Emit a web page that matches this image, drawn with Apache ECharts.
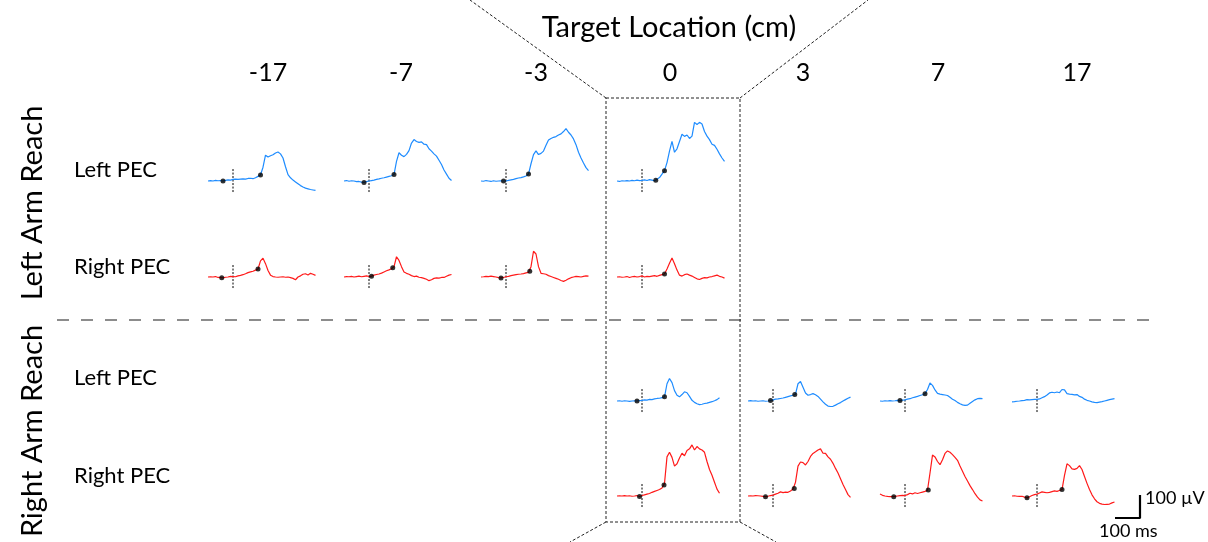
<!DOCTYPE html>
<html>
<head>
<meta charset="utf-8">
<script src="https://cdn.jsdelivr.net/npm/echarts@6/dist/echarts.min.js"></script>
<style>html,body{margin:0;padding:0;background:#fff}#c{width:1208px;height:542px}</style>
</head>
<body>
<div id="c"></div>
<script>
// ---- DATA ----
const TITLE = 'Target Location (cm)';
const TARGETS = ['-17', '-7', '-3', '0', '3', '7', '17'];
const ROW_LABELS = ['Left PEC', 'Right PEC', 'Left PEC', 'Right PEC'];
const GROUP_LABELS = ['Left Arm Reach', 'Right Arm Reach'];
const SCALE_LABELS = ['100 µV', '100 ms'];
const SCALE_BAR = [[100, 100], [100, 0], [0, 0]]; // 100 ms x 100 µV
const ONSET = [[0, -48], [0, 55]];
// time (ms) relative to target onset
const TIME = [-100,-90,-80,-70,-60,-50,-40,-30,-20,-10,0,10,20,30,40,50,60,70,80,90,100,110,120,130,140,150,160,170,180,190,200,210,220,230,240,250,260,270,280,290,300,310,320,330];

// Left arm reach, Left PEC (µV)
const LA_LPEC_m17 = [0,2,0,3,1,2,0,3,5,4,7,8,7,8,9,8,11,12,10,14,20,26,60,112,104,110,114,122,126,118,100,62,28,14,4,-4,-12,-20,-26,-31,-34,-37,-39,-41];
const LA_LPEC_m7 = [0,2,-1,1,0,-3,-2,-5,-6,-3,0,2,4,7,9,12,14,17,20,23,28,85,123,112,106,116,132,165,180,172,168,170,160,158,140,130,118,108,90,72,48,30,12,2];
const LA_LPEC_m3 = [0,-1,2,0,-2,1,-1,0,1,0,0,3,5,7,10,13,15,18,22,30,75,115,131,115,120,130,155,178,185,190,193,200,205,215,228,212,200,183,158,125,100,78,58,45];
const LA_LPEC_0 = [0,-2,1,0,2,0,3,1,4,2,3,5,2,6,4,1,8,15,30,45,80,130,172,125,140,172,203,194,200,185,195,255,246,255,248,215,195,180,160,155,138,118,100,85];
// Left arm reach, Right PEC (µV)
const LA_RPEC_m17 = [0,1,0,2,-2,-3,-4,-1,0,3,2,1,5,7,10,14,19,22,25,30,35,70,82,58,28,8,2,0,-1,0,1,-1,0,-3,-6,-12,0,5,12,14,9,16,12,7];
const LA_RPEC_m7 = [0,2,1,3,0,2,4,1,3,5,2,4,8,11,13,17,22,27,31,36,45,88,72,45,22,16,12,6,2,4,-1,-3,-6,-10,-16,-12,-6,-4,-5,-2,-2,3,8,11];
const LA_RPEC_m3 = [0,1,3,2,4,2,0,-3,-4,-2,1,3,6,8,10,12,13,15,18,20,45,112,100,45,16,14,12,6,2,-2,-6,-10,-15,-19,-14,-8,-3,0,3,2,0,3,5,4];
const LA_RPEC_0 = [0,1,-1,0,2,-2,1,3,0,2,5,0,3,2,4,6,3,7,10,13,35,60,83,58,30,8,4,10,13,8,4,-2,-8,-11,-6,-3,-4,0,2,5,8,3,0,-5];
// Right arm reach, Left PEC (µV)
const RA_LPEC_0 = [0,1,-1,1,0,-2,0,1,0,2,3,5,4,7,6,9,11,12,15,18,75,98,80,45,25,18,28,40,36,20,3,-6,-12,-16,-14,-11,-9,-6,-3,1,6,14];
const RA_LPEC_3 = [0,2,0,1,-1,0,1,-1,0,2,5,8,9,11,13,16,19,22,25,30,75,85,60,35,25,28,32,27,20,8,-4,-14,-22,-24,-23,-18,-12,-7,0,6,12,17];
const RA_LPEC_7 = [0,-1,1,0,2,0,1,3,2,4,5,8,10,14,17,20,24,27,32,50,78,68,48,33,30,28,26,24,16,8,2,-6,-12,-17,-19,-18,-10,-2,5,10,11,10];
const RA_LPEC_17 = [-4,-3,-1,0,2,3,6,5,6,7,7,9,14,19,26,35,38,36,39,36,50,48,32,30,29,27,28,20,16,8,3,0,-4,-6,-7,-5,-3,0,3,6,8,10];
// Right arm reach, Right PEC (µV)
const RA_RPEC_0 = [0,1,0,2,0,1,-1,0,2,-2,2,5,8,11,16,20,24,28,35,55,170,190,168,130,140,165,186,175,198,205,222,200,215,205,200,190,150,115,90,60,30,12];
const RA_RPEC_3 = [0,1,0,2,1,0,-2,-3,-1,2,4,8,12,18,15,17,16,22,30,60,130,148,145,135,150,172,185,192,200,205,186,185,170,160,142,120,100,75,50,28,6,-6];
const RA_RPEC_7 = [9,3,0,-2,-3,-3,-2,0,2,3,2,6,12,9,14,11,14,17,20,25,100,178,170,150,136,158,185,196,190,180,168,155,130,108,85,65,45,28,10,-5,-17,-22];
const RA_RPEC_17 = [0,1,-1,-2,-1,-5,-8,-3,2,6,8,13,18,16,14,16,19,22,20,24,28,90,140,132,118,116,120,132,115,85,55,28,5,-12,-25,-32,-35,-37,-36,-35,-30,-26];

// onset markers [time ms, µV]
const DOTS_LA_LPEC = [[[-40,0],[110,26]], [[-20,-6],[100,28]], [[-10,0],[90,30]], [[55,3],[90,45]]];
const DOTS_LA_RPEC = [[[-45,-3],[100,35]], [[10,3],[95,40]], [[-20,-4],[95,25]], [[90,13]]];
const DOTS_RA_LPEC = [[[-20,0],[90,18]], [[-10,2],[87,28]], [[-20,2],[80,32]], []];
const DOTS_RA_RPEC = [[[-10,-2],[88,48]], [[-30,-3],[85,33]], [[-45,-3],[93,26]], [[-40,-8],[100,28]]];

// ---- LAYOUT ----
const BLUE = '#1E8CFF', RED = '#FF1A1A';
const COL_X = [208, 344, 481, 617, 748, 880, 1012];
const COL_CX = [268, 401, 536, 670, 803, 938, 1077];
const ROW_BASE = [181, 277, 401, 496];
const PX_PER_MS = 0.25, PX_PER_UV = 0.23;
const TMIN = -100, TMAX = 330, VMIN = -100, VMAX = 300;

const panels = [
  {row:0, col:0, vals:LA_LPEC_m17, dots:DOTS_LA_LPEC[0], color:BLUE},
  {row:0, col:1, vals:LA_LPEC_m7, dots:DOTS_LA_LPEC[1], color:BLUE},
  {row:0, col:2, vals:LA_LPEC_m3, dots:DOTS_LA_LPEC[2], color:BLUE},
  {row:0, col:3, vals:LA_LPEC_0, dots:DOTS_LA_LPEC[3], color:BLUE},
  {row:1, col:0, vals:LA_RPEC_m17, dots:DOTS_LA_RPEC[0], color:RED},
  {row:1, col:1, vals:LA_RPEC_m7, dots:DOTS_LA_RPEC[1], color:RED},
  {row:1, col:2, vals:LA_RPEC_m3, dots:DOTS_LA_RPEC[2], color:RED},
  {row:1, col:3, vals:LA_RPEC_0, dots:DOTS_LA_RPEC[3], color:RED},
  {row:2, col:3, vals:RA_LPEC_0, dots:DOTS_RA_LPEC[0], color:BLUE},
  {row:2, col:4, vals:RA_LPEC_3, dots:DOTS_RA_LPEC[1], color:BLUE},
  {row:2, col:5, vals:RA_LPEC_7, dots:DOTS_RA_LPEC[2], color:BLUE},
  {row:2, col:6, vals:RA_LPEC_17, dots:DOTS_RA_LPEC[3], color:BLUE},
  {row:3, col:3, vals:RA_RPEC_0, dots:DOTS_RA_RPEC[0], color:RED},
  {row:3, col:4, vals:RA_RPEC_3, dots:DOTS_RA_RPEC[1], color:RED},
  {row:3, col:5, vals:RA_RPEC_7, dots:DOTS_RA_RPEC[2], color:RED},
  {row:3, col:6, vals:RA_RPEC_17, dots:DOTS_RA_RPEC[3], color:RED}
];

const grid = [], xAxis = [], yAxis = [], series = [];
panels.forEach((p, i) => {
  grid.push({left: COL_X[p.col], top: ROW_BASE[p.row] - VMAX * PX_PER_UV,
             width: (TMAX - TMIN) * PX_PER_MS, height: (VMAX - VMIN) * PX_PER_UV});
  xAxis.push({gridIndex:i, type:'value', min:TMIN, max:TMAX, show:false});
  yAxis.push({gridIndex:i, type:'value', min:VMIN, max:VMAX, show:false});
  series.push({type:'line', xAxisIndex:i, yAxisIndex:i, showSymbol:false, silent:true,
    data: p.vals.map((v, k) => [TIME[k], v]),
    lineStyle:{color:p.color, width:1.2}, z:2});
  series.push({type:'line', xAxisIndex:i, yAxisIndex:i, showSymbol:false, silent:true,
    data: ONSET, lineStyle:{color:'#000', width:1, type:[2,1.5]}, z:1});
  if (p.dots.length) series.push({type:'scatter', xAxisIndex:i, yAxisIndex:i, silent:true,
    data: p.dots, symbolSize:5, itemStyle:{color:'#000'}, z:3});
});
// scale bar grid
const si = panels.length;
grid.push({left:1115, top:495, width:100 * PX_PER_MS, height:100 * PX_PER_UV});
xAxis.push({gridIndex:si, type:'value', min:0, max:100, show:false});
yAxis.push({gridIndex:si, type:'value', min:0, max:100, show:false});
series.push({type:'line', xAxisIndex:si, yAxisIndex:si, showSymbol:false, silent:true,
  data: SCALE_BAR, lineStyle:{color:'#000', width:2.2}});

const FONT = 'Lato';
const graphic = [
  {type:'line', shape:{x1:57, y1:320, x2:1155, y2:320}, style:{stroke:'#8c8c8c', lineWidth:2, lineDash:[12,12]}},
  {type:'rect', shape:{x:606, y:98, width:134, height:424}, style:{fill:null, stroke:'#222', lineWidth:1, lineDash:[3,2]}},
  {type:'line', shape:{x1:606, y1:98, x2:470, y2:0}, style:{stroke:'#222', lineWidth:1, lineDash:[3,2]}},
  {type:'line', shape:{x1:740, y1:98, x2:868, y2:0}, style:{stroke:'#222', lineWidth:1, lineDash:[3,2]}},
  {type:'line', shape:{x1:606, y1:522, x2:570, y2:542}, style:{stroke:'#222', lineWidth:1, lineDash:[3,2]}},
  {type:'line', shape:{x1:740, y1:522, x2:776, y2:542}, style:{stroke:'#222', lineWidth:1, lineDash:[3,2]}},
  {type:'text', x:669, y:28, style:{text:TITLE, font:'29px ' + FONT, fill:'#000', textAlign:'center', textVerticalAlign:'middle'}}
];
TARGETS.forEach((t, c) => graphic.push({type:'text', x:COL_CX[c], y:73,
  style:{text:t, font:'25px ' + FONT, fill:'#000', textAlign:'center', textVerticalAlign:'middle'}}));
const ROW_TEXT_Y = [170, 267, 378, 476];
ROW_LABELS.forEach((t, r) => graphic.push({type:'text', x:74, y:ROW_TEXT_Y[r],
  style:{text:t, font:'22px ' + FONT, fill:'#000', textAlign:'left', textVerticalAlign:'middle'}}));
const GROUP_Y = [203, 431];
GROUP_LABELS.forEach((t, g) => graphic.push({type:'text', x:33, y:GROUP_Y[g], rotation:Math.PI/2,
  style:{text:t, font:'29px ' + FONT, fill:'#000', textAlign:'center', textVerticalAlign:'middle'}}));
graphic.push({type:'text', x:1145, y:498, style:{text:SCALE_LABELS[0], font:'18px ' + FONT, fill:'#000', textAlign:'left', textVerticalAlign:'middle'}});
graphic.push({type:'text', x:1099, y:531, style:{text:SCALE_LABELS[1], font:'18px ' + FONT, fill:'#000', textAlign:'left', textVerticalAlign:'middle'}});

const chart = echarts.init(document.getElementById('c'), null, {renderer:'canvas'});
chart.setOption({backgroundColor:'#fff', animation:false, grid, xAxis, yAxis, series, graphic});
</script>
</body>
</html>
